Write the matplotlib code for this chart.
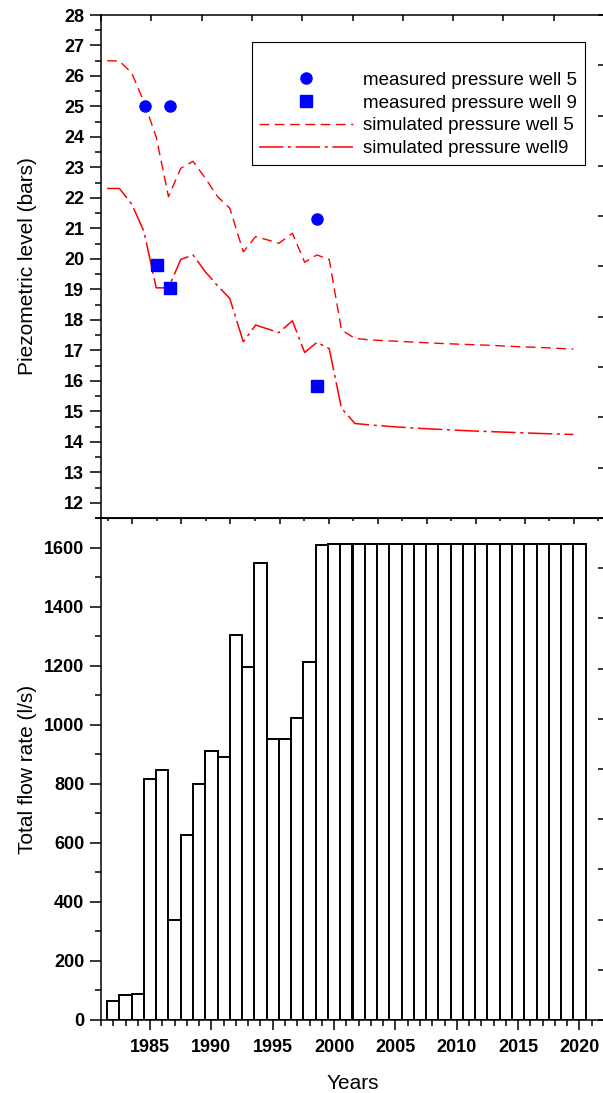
import numpy as np
import matplotlib
matplotlib.use("Agg")
import matplotlib.pyplot as plt
from matplotlib.ticker import MultipleLocator, FixedLocator, NullFormatter

plt.rcParams['font.family'] = ['Liberation Sans', 'DejaVu Sans']

# simulated piezometric levels (bars), read at mid-year positions
sim_years = [1981.5, 1982.5, 1983.5, 1984.5, 1985.5, 1986.5, 1987.5, 1988.5, 1989.5, 1990.5,
             1991.5, 1992.6, 1993.6, 1994.6, 1995.5, 1996.6, 1997.6, 1998.6, 1999.6, 2000.6,
             2001.7, 2003, 2005, 2007, 2009, 2011, 2013, 2015, 2017, 2019.5]
sim_well5 = [26.50, 26.49, 26.10, 25.15, 24.00, 22.04, 22.97, 23.20, 22.65, 22.04,
             21.66, 20.23, 20.73, 20.62, 20.51, 20.84, 19.89, 20.13, 19.98, 17.67,
             17.39, 17.34, 17.30, 17.26, 17.22, 17.19, 17.16, 17.12, 17.09, 17.04]
sim_well9 = [22.31, 22.31, 21.80, 20.90, 19.05, 19.05, 19.98, 20.13, 19.58, 19.12,
             18.70, 17.28, 17.83, 17.70, 17.58, 17.97, 16.93, 17.26, 17.06, 15.10,
             14.60, 14.55, 14.49, 14.44, 14.40, 14.36, 14.33, 14.30, 14.27, 14.24]

# measured values
meas_years5 = [1984.6, 1986.6, 1998.6]
meas_well5 = [25.03, 25.03, 21.30]
meas_years9 = [1985.6, 1986.6, 1998.6]
meas_well9 = [19.80, 19.03, 15.83]

# yearly total flow rate (l/s)
flow_years = list(range(1982, 2021))
flow_rate = [64, 86, 87, 815, 846, 340, 628, 798, 910, 890,
             1304, 1197, 1547, 951, 951, 1022, 1211, 1607] + [1612] * 21

XMIN, XMAX = 1981, 2022

fig = plt.figure(figsize=(6.03, 10.93), dpi=100)
L, W = 101 / 603, 503 / 603
ax1 = fig.add_axes([L, 1 - 518 / 1093, W, 503 / 1093])
ax2 = fig.add_axes([L, 1 - 1020 / 1093, W, 502 / 1093])

lw_axis = 1.1
tick_font = dict(family='Liberation Sans', weight='bold', size=13)

# ---- top panel: piezometric levels
ax1.plot(meas_years5, meas_well5, 'o', color='#0000ff', ms=8, label='measured pressure well 5', zorder=4)
ax1.plot(meas_years9, meas_well9, 's', color='#0000ff', ms=8, label='measured pressure well 9', zorder=4)
ax1.plot(sim_years, sim_well5, color='#ff0000', lw=1.0, ls=(0, (7, 4)),
         label='simulated pressure well 5')
ax1.plot(sim_years, sim_well9, color='#ff0000', lw=1.1, ls=(0, (16, 3, 2, 3)),
         label='simulated pressure well9')

ax1.set_xlim(XMIN, XMAX)
ax1.set_ylim(11.5, 28)
ax1.set_yticks(range(12, 29))
ax1.yaxis.set_minor_locator(MultipleLocator(0.5))
ax1.tick_params(axis='y', which='major', direction='out', length=8, width=lw_axis, pad=4)
ax1.tick_params(axis='y', which='minor', direction='out', length=4.5, width=lw_axis)
for t in ax1.get_yticklabels():
    t.set_fontproperties(tick_font)
ax1.set_xticks(np.linspace(XMIN, XMAX, 11))
ax1.tick_params(axis='x', which='both', top=True, bottom=False, labelbottom=False,
                direction='in', length=4, width=lw_axis)
ax1.set_ylabel('Piezometric level (bars)', fontsize=15)
ax1.yaxis.set_label_coords(-0.128, 0.5)

leg = ax1.legend(loc='upper right', bbox_to_anchor=(0.962, 0.947), borderaxespad=0,
                 fontsize=13.5, title=' ', title_fontsize=13.5, numpoints=1,
                 handlelength=5.0, handletextpad=0.55, labelspacing=0.3,
                 borderpad=0.4, fancybox=False, framealpha=1, edgecolor='black')
leg.get_frame().set_linewidth(0.8)

# ---- bottom panel: flow rate bars
ax2.bar(flow_years, flow_rate, width=1.0, color='white', edgecolor='black', linewidth=1.4, zorder=2)
ax2.set_xlim(XMIN, XMAX)
ax2.set_ylim(0, 1700)
ax2.set_yticks(range(0, 1601, 200))
ax2.yaxis.set_minor_locator(MultipleLocator(100))
ax2.set_xticks(range(1985, 2021, 5))
ax2.xaxis.set_minor_locator(MultipleLocator(1))
ax2.tick_params(axis='y', which='major', direction='out', length=8, width=lw_axis, pad=4)
ax2.tick_params(axis='y', which='minor', direction='out', length=4.5, width=lw_axis)
ax2.tick_params(axis='x', which='major', direction='out', length=7, width=lw_axis, pad=7)
ax2.tick_params(axis='x', which='minor', direction='out', length=4, width=lw_axis)
for t in ax2.get_yticklabels() + ax2.get_xticklabels():
    t.set_fontproperties(tick_font)
ax2.set_ylabel('Total flow rate (l/s)', fontsize=15)
ax2.yaxis.set_label_coords(-0.128, 0.5)
ax2.set_xlabel('Years', fontsize=15)
ax2.xaxis.set_label_coords(0.5, -0.108)

# ticks hanging from the shared middle line
top2 = ax2.secondary_xaxis('top')
top2.set_xticks(np.arange(1983.55, 2020, 4))
top2.xaxis.set_minor_locator(FixedLocator(np.arange(1981.55, 2022, 4)))
top2.xaxis.set_major_formatter(NullFormatter())
top2.tick_params(which='major', direction='in', length=4, width=lw_axis)
top2.tick_params(which='minor', direction='in', length=2.5, width=lw_axis)

# right-hand ticks at equal divisions
for ax in (ax1, ax2):
    for s in ax.spines.values():
        s.set_linewidth(lw_axis)
    ax.spines['right'].set_visible(False)
    tw = ax.twinx()
    tw.set_ylim(0, 1)
    tw.set_yticks(np.linspace(0, 1, 11))
    tw.set_yticklabels([])
    tw.tick_params(axis='y', direction='in', length=4, width=lw_axis)
    for s in tw.spines.values():
        s.set_visible(False)

fig.savefig('out.png', dpi=100)
